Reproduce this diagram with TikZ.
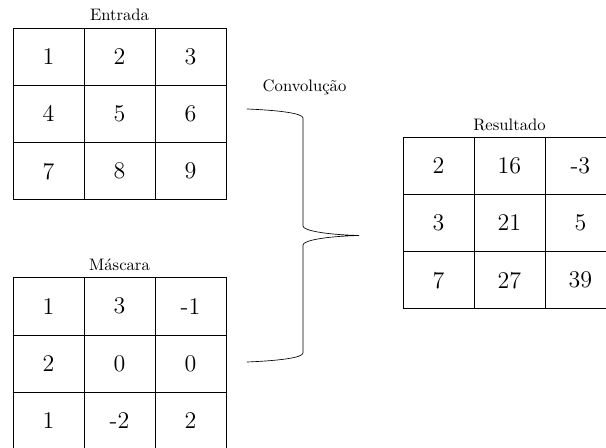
\documentclass[tikz,border=0pt]{standalone}
\usepackage{fontspec}

\begin{document}
\begin{tikzpicture}[cell/.style={draw, minimum width=1.5cm, minimum height=1.21cm, inner sep=0pt, font=\Large},
                    title/.style={anchor=base}]
      \path[use as bounding box, clip] (0,0) rectangle (12.805,-9.466);

      % entrada
      \node[title] (entrada) at (2.525,-0.437) {Entrada};
      \node[cell] (e11) at (1.025,-1.197) {1};
      \node[cell] (e12) at (2.525,-1.197) {2};
      \node[cell] (e13) at (4.025,-1.197) {3};
      \node[cell] (e21) at (1.025,-2.407) {4};
      \node[cell] (e22) at (2.525,-2.407) {5};
      \node[cell] (e23) at (4.025,-2.407) {6};
      \node[cell] (e31) at (1.025,-3.617) {7};
      \node[cell] (e32) at (2.525,-3.617) {8};
      \node[cell] (e33) at (4.025,-3.617) {9};

      % mascara
      \node[title] (mascara) at (2.525,-5.720) {Máscara};
      \node[cell] (m11) at (1.025,-6.471) {1};
      \node[cell] (m12) at (2.525,-6.471) {3};
      \node[cell] (m13) at (4.025,-6.471) {-1};
      \node[cell] (m21) at (1.025,-7.681) {2};
      \node[cell] (m22) at (2.525,-7.681) {0};
      \node[cell] (m23) at (4.025,-7.681) {0};
      \node[cell] (m31) at (1.025,-8.891) {1};
      \node[cell] (m32) at (2.525,-8.891) {-2};
      \node[cell] (m33) at (4.025,-8.891) {2};

      % resultado
      \node[title] (resultado) at (10.765,-2.762) {Resultado};
      \node[cell] (r11) at (9.265,-3.500) {2};
      \node[cell] (r12) at (10.765,-3.500) {16};
      \node[cell] (r13) at (12.265,-3.500) {-3};
      \node[cell] (r21) at (9.265,-4.710) {3};
      \node[cell] (r22) at (10.765,-4.710) {21};
      \node[cell] (r23) at (12.265,-4.710) {5};
      \node[cell] (r31) at (9.265,-5.920) {7};
      \node[cell] (r32) at (10.765,-5.920) {27};
      \node[cell] (r33) at (12.265,-5.920) {39};

      % chave
      \node[title] (conv) at (6.434,-1.937) {Convolução};
      \draw (5.219,-2.303) .. controls (5.929,-2.332) and (6.402,-2.398) .. (6.402,-2.493)
            -- (6.402,-4.775) .. controls (6.402,-4.870) and (6.876,-4.958) .. (7.586,-4.976)
            .. controls (6.876,-4.994) and (6.402,-5.082) .. (6.402,-5.177)
            -- (6.402,-7.459) .. controls (6.402,-7.554) and (5.929,-7.621) .. (5.219,-7.649);
    \end{tikzpicture}
\end{document}
